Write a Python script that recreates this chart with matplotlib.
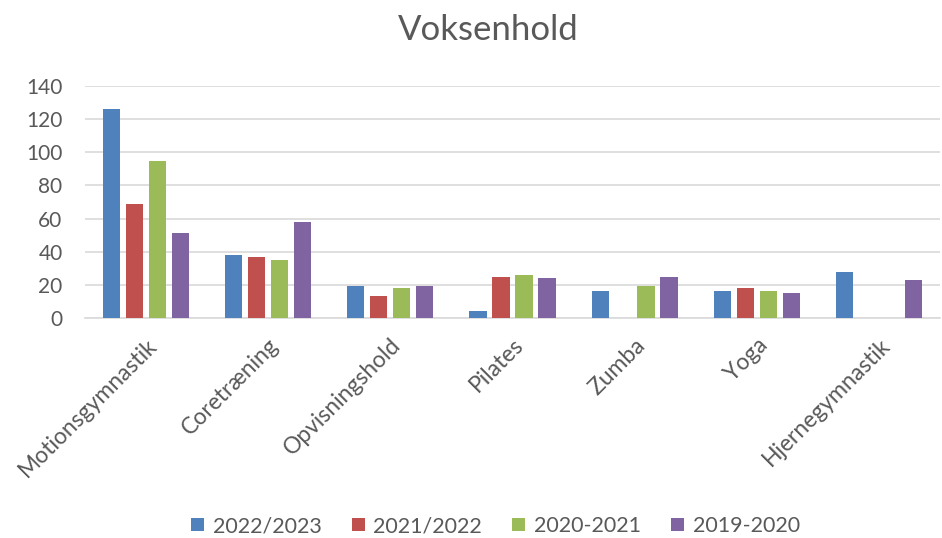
import numpy as np
import matplotlib.pyplot as plt

# Kategorier og serier
categories = ['Motionsgymnastik', 'Coretræning', 'Opvisningshold', 'Pilates',
              'Zumba', 'Yoga', 'Hjernegymnastik']
series_names = ['2022/2023', '2021/2022', '2020-2021', '2019-2020']
v_2022_2023 = [126, 38, 19, 4, 16, 16, 28]
v_2021_2022 = [69, 37, 13, 25, 0, 18, 0]
v_2020_2021 = [95, 35, 18, 26, 19, 16, 0]
v_2019_2020 = [51, 58, 19, 24, 25, 15, 23]
yticks = [0, 20, 40, 60, 80, 100, 120, 140]

colors = ['#4f81bd', '#c0504d', '#9bbb59', '#8064a2']
text_grey = '#595959'

plt.rcParams['font.family'] = ['Lato', 'DejaVu Sans']

fig = plt.figure(figsize=(9.42, 5.38), dpi=100)
ax = fig.add_axes([0.090, 0.409, 0.908, 0.431])

x = np.arange(len(categories))
pitch = 0.188
width = 0.142
all_values = [v_2022_2023, v_2021_2022, v_2020_2021, v_2019_2020]
for i, (vals, name, c) in enumerate(zip(all_values, series_names, colors)):
    ax.bar(x + (i - 1.5) * pitch, vals, width, color=c, label=name, zorder=3)

ax.set_xlim(-0.5, len(categories) - 0.5)
ax.set_ylim(0, 140)
ax.set_yticks(yticks)
ax.grid(axis='y', color='#d9d9d9', linewidth=1.2, zorder=0)
for s in ['top', 'right', 'left']:
    ax.spines[s].set_visible(False)
ax.spines['bottom'].set_color('#d9d9d9')
ax.spines['bottom'].set_linewidth(1.2)
ax.tick_params(axis='both', length=0, colors=text_grey, labelsize=15)
ax.tick_params(axis='y', pad=16)

ax.set_xticks(x)
ax.set_xticklabels(categories, rotation=45, ha='right', rotation_mode='anchor',
                   fontsize=16.5)
ax.tick_params(axis='x', pad=12)

fig.text(0.518, 0.945, 'Voksenhold', ha='center', va='center',
         fontsize=25, color=text_grey)

fig.legend(loc='center', bbox_to_anchor=(0.526, 0.022), ncol=4, frameon=False,
           fontsize=15.5, labelcolor=text_grey, handlelength=0.6, handleheight=0.6,
           handletextpad=0.4, columnspacing=1.4)

fig.savefig('out.png', dpi=100)
